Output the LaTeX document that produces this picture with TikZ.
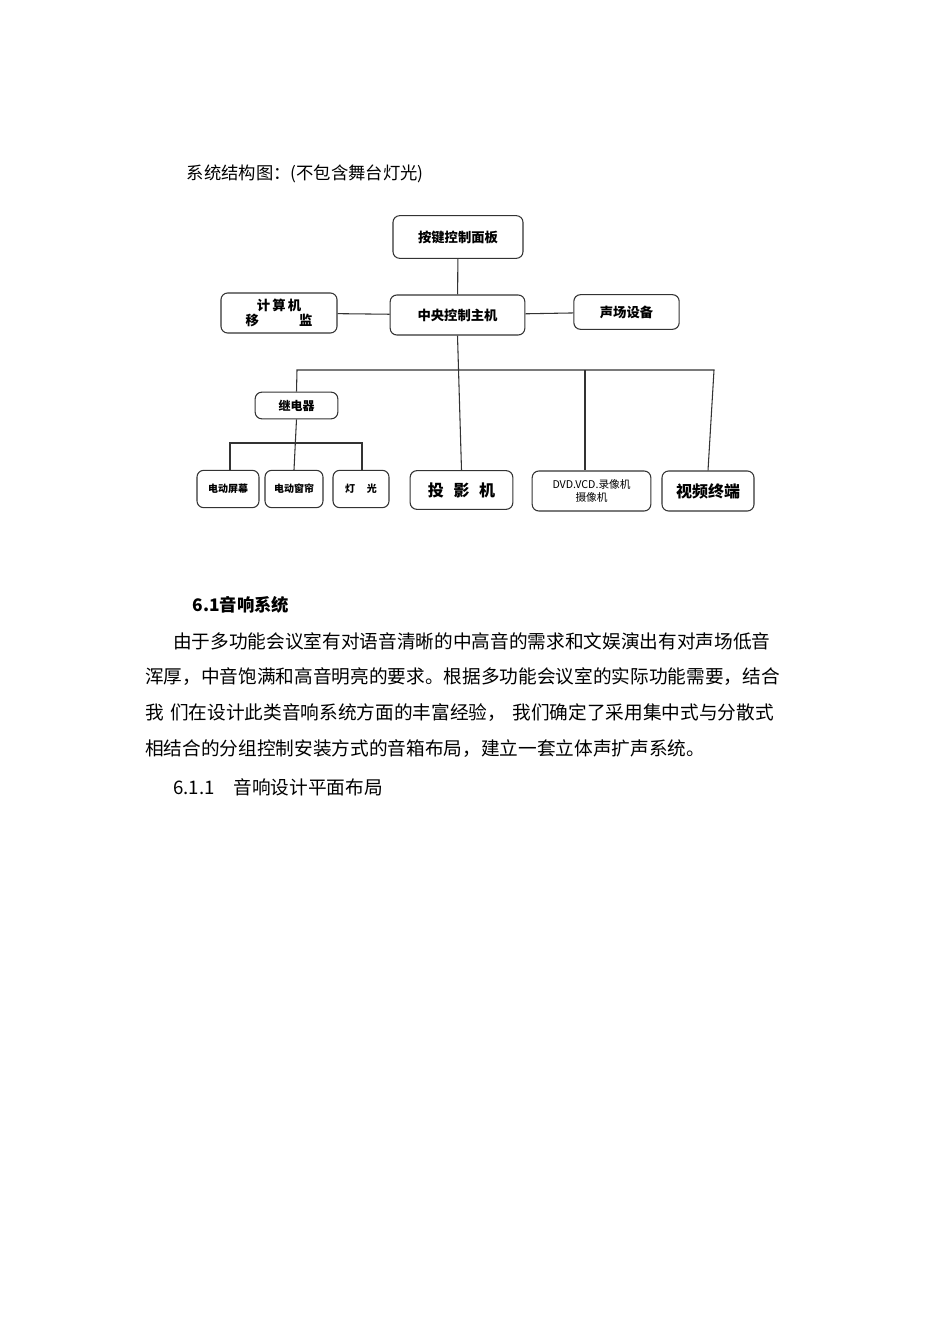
\documentclass[tikz,border=0pt]{standalone}
\usepackage{fontspec}
\setmainfont{Noto Sans CJK SC}
\newfontfamily\cjk{Noto Sans CJK SC}
\begin{document}
\begin{tikzpicture}[x=0.75pt,y=-0.75pt,
 bx/.style={draw=black!80,line width=0.8pt,rounded corners=5pt,inner sep=0pt,font=\cjk\bfseries},
 ln/.style={draw=black!80,line width=0.8pt}]
\useasboundingbox[fill=white] (0,0) rectangle (950,1344);
\node[anchor=west,font=\cjk\fontsize{13}{15}\selectfont] (title) at (182,174) {系统结构图：(不包含舞台灯光)};
% boxes
\node[bx,minimum width=97.5pt,minimum height=32pt,font=\cjk\bfseries\fontsize{10}{12}\selectfont] (panel) at (458,237) {按键控制面板};
\node[bx,minimum width=101pt,minimum height=30pt,font=\cjk\bfseries\fontsize{10}{12}\selectfont] (host) at (457.5,315) {中央控制主机};
\node[bx,minimum width=87pt,minimum height=30pt,align=center,font=\cjk\bfseries\fontsize{10}{11}\selectfont] (pc) at (279,313) {计\,算\,机\\移\hspace{3em}监};
\node[bx,minimum width=79pt,minimum height=26pt,font=\cjk\bfseries\fontsize{10}{12}\selectfont] (sound) at (626.5,312) {声场设备};
\node[bx,minimum width=62pt,minimum height=20pt,font=\cjk\bfseries\fontsize{9}{11}\selectfont] (relay) at (296.5,405.5) {继电器};
\node[bx,minimum width=46.5pt,minimum height=28pt,font=\cjk\bfseries\fontsize{7.5}{9}\selectfont] (screen) at (228,489) {电动屏幕};
\node[bx,minimum width=43.5pt,minimum height=28pt,font=\cjk\bfseries\fontsize{7.5}{9}\selectfont] (curtain) at (294,489) {电动窗帘};
\node[bx,minimum width=42pt,minimum height=28pt,font=\cjk\bfseries\fontsize{7.5}{9}\selectfont] (light) at (361,489) {灯\hspace{1.2em}光};
\node[bx,minimum width=77pt,minimum height=29pt,font=\cjk\bfseries\fontsize{12}{14}\selectfont] (proj) at (461.5,490) {投\hspace{0.6em}影\hspace{0.6em}机};
\node[bx,minimum width=89pt,minimum height=30pt,align=center,font=\cjk\fontsize{8}{10}\selectfont] (dvd) at (591.5,491) {DVD.VCD.录像机\\摄像机};
\node[bx,minimum width=69pt,minimum height=30pt,font=\cjk\bfseries\fontsize{12}{14}\selectfont] (vt) at (708,491) {视频终端};
% connectors
\draw[ln] (panel) -- (host);
\draw[ln] (pc) -- (host);
\draw[ln] (host) -- (sound);
\coordinate (b1) at (297,370);
\coordinate (b2) at (714,370);
\draw[ln] (host.south) -- (proj.north);
\draw[ln] (relay.north) -- (b1) -- (b2) -- (vt.north);
\draw[ln] (585,370) -- (dvd.north -| 585,0);
\coordinate (s1) at (230,443);
\coordinate (s2) at (362,443);
\draw[ln] (relay.south) -- (curtain.north);
\draw[ln] (screen.north -| s1) -- (s1) -- (s2) -- (light.north -| s2);
% text
\node[anchor=west,font=\cjk\bfseries\fontsize{13}{15}\selectfont] (h1) at (188,605) {6.1音响系统};
\begin{scope}[every node/.style={anchor=west,font=\cjk\fontsize{14}{16}\selectfont,inner sep=0pt}]
\node (p1) at (173,641) {由于多功能会议室有对语音清晰的中高音的需求和文娱演出有对声场低音};
\node (p2) at (145,677) {浑厚，中音饱满和高音明亮的要求。根据多功能会议室的实际功能需要，结合};
\node (p3) at (145,713) {我\,\,们在设计此类音响系统方面的丰富经验，\,\,我们确定了采用集中式与分散式};
\node (p4) at (145,749) {相结合的分组控制安装方式的音箱布局，建立一套立体声扩声系统。};
\node (p5) at (173,787) {6.1.1\quad 音响设计平面布局};
\end{scope}
\end{tikzpicture}
\end{document}
